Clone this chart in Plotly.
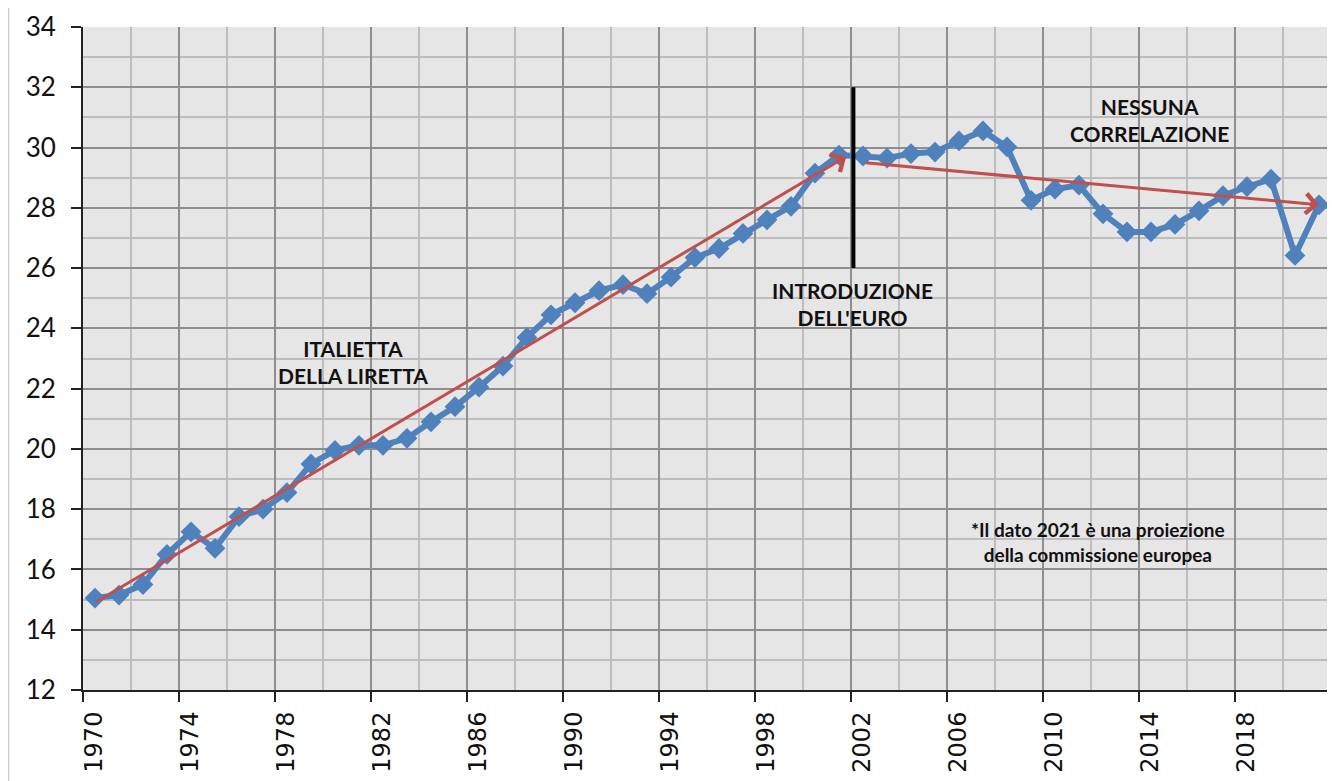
import plotly.graph_objects as go

years = list(range(1970, 2022))
values = [15.05, 15.15, 15.5, 16.5, 17.25, 16.7, 17.75, 18.0, 18.55, 19.5,
          19.95, 20.12, 20.12, 20.35, 20.9, 21.4, 22.05, 22.75, 23.7, 24.45,
          24.85, 25.25, 25.45, 25.15, 25.7, 26.35, 26.65, 27.15, 27.6, 28.05,
          29.15, 29.75, 29.72, 29.65, 29.8, 29.85, 30.22, 30.55, 30.02, 28.25,
          28.62, 28.75, 27.8, 27.2, 27.2, 27.45, 27.9, 28.4, 28.7, 28.95,
          26.42, 28.1]

# trend arrows (start -> end)
trend_start_year = [1970.0, 2002.05]
trend_start_val = [14.9, 29.5]
trend_end_year = [2001.3, 2021.0]
trend_end_val = [29.7, 28.1]

euro_year = 2001.6
euro_span = [26.0, 32.0]

label_years = list(range(1970, 2022, 4))

BLUE = "#4F81BD"
RED = "#C0504D"
TXT = "#111111"

fig = go.Figure()
fig.add_trace(go.Scatter(
    x=years, y=values, mode="lines+markers",
    line=dict(color=BLUE, width=6),
    marker=dict(symbol="diamond", size=16, color=BLUE),
    showlegend=False, hoverinfo="x+y",
))

# tick marks sit on the boundaries between years, labels shifted to year centres
bounds = [y - 0.5 for y in label_years] + [label_years[-1] + 3.5]
tick_text = [str(y) for y in label_years] + [""]

annotations = []
for x0, y0, x1, y1 in zip(trend_start_year, trend_start_val, trend_end_year, trend_end_val):
    annotations.append(dict(
        x=x1, y=y1, ax=x0, ay=y0, xref="x", yref="y", axref="x", ayref="y",
        text="", showarrow=True, arrowhead=4, arrowsize=1.3, arrowwidth=3,
        arrowcolor=RED, standoff=0, startstandoff=0,
    ))

notes = [
    (1980.77, 22.9, "<b>ITALIETTA<br>DELLA LIRETTA</b>", 21),
    (2001.56, 24.8, "<b>INTRODUZIONE<br>DELL'EURO</b>", 21),
    (2013.93, 30.9, "<b>NESSUNA<br>CORRELAZIONE</b>", 21),
    (2011.81, 16.91, "<b>*Il dato 2021 è una proiezione<br>della commissione europea</b>", 19),
]
for nx, ny, txt, sz in notes:
    annotations.append(dict(
        x=nx, y=ny, xref="x", yref="y", text=txt, showarrow=False,
        align="center", font=dict(family="Lato", size=sz, color=TXT),
    ))

# the page body adds an 8px offset, so the figure is sized to fit the window
fig.update_layout(
    width=1327, height=773,
    margin=dict(l=75, r=4, t=19, b=91),
    paper_bgcolor="white",
    plot_bgcolor="#E6E6E6",
    annotations=annotations,
    shapes=[
        dict(type="line", xref="x", yref="y", x0=euro_year, x1=euro_year,
             y0=euro_span[0], y1=euro_span[1], line=dict(color="black", width=4)),
        dict(type="line", xref="paper", yref="paper", x0=-0.0595, x1=-0.0595,
             y0=-0.2, y1=1.04, line=dict(color="#BBBBBB", width=1)),
    ],
)

fig.update_xaxes(
    automargin=False,
    range=[1969.5, 2021.5],
    tickmode="array", tickvals=bounds, ticktext=tick_text,
    ticklabelshift=11, tickangle=-90,
    tickfont=dict(family="DejaVu Sans", size=24, color=TXT),
    ticks="outside", ticklen=10, tickcolor="#222222", tickwidth=2,
    showline=True, linecolor="#222222", linewidth=2,
    showgrid=True, gridcolor="#8E8E8E", gridwidth=1.5,
    minor=dict(tick0=1969.5, dtick=2, showgrid=True, gridcolor="#BDBDBD", gridwidth=1.5),
    zeroline=False,
)
fig.update_yaxes(
    automargin=False,
    range=[12, 34], dtick=2, tick0=12,
    tickfont=dict(family="Lato", size=26, color=TXT),
    ticks="outside", ticklen=10, tickcolor="#222222", tickwidth=2,
    ticklabelstandoff=10,
    showline=True, linecolor="#222222", linewidth=2,
    showgrid=True, gridcolor="#8E8E8E", gridwidth=1.5,
    minor=dict(dtick=1, showgrid=True, gridcolor="#BDBDBD", gridwidth=1.5),
    zeroline=False,
)

fig.write_html("out.html")
